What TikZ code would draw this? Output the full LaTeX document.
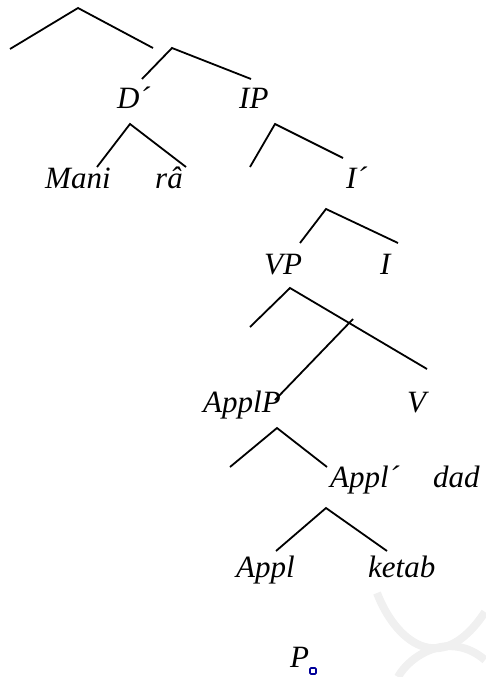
\documentclass[tikz,border=0pt]{standalone}
\usepackage{fontspec}
\setmainfont{Liberation Serif}
\begin{document}
\begin{tikzpicture}[x=1pt,y=-1pt,
  lbl/.style={anchor=base west,inner sep=0pt,font=\fontsize{31}{31}\selectfont\itshape},
  br/.style={line width=1.8pt,line join=miter},
  wm/.style={draw=black!6,line width=8pt}]
\useasboundingbox (0,0) rectangle (485,677);
% faint watermark
\draw[wm] (377,593) .. controls (395,640) and (440,680) .. (485,612);
\draw[wm] (398,677) .. controls (410,655) and (450,630) .. (485,660);
% coordinates
\coordinate (t1) at (10,49); \coordinate (t0) at (78,8); \coordinate (t2) at (153,48);
\coordinate (s1) at (142,79); \coordinate (s0) at (172,48); \coordinate (s2) at (251,79);
\coordinate (d0) at (130,124); \coordinate (d1) at (97,167); \coordinate (d2) at (186,167);
\coordinate (i0) at (275,124); \coordinate (i1) at (250,167); \coordinate (i2) at (343,158);
\coordinate (j0) at (326,209); \coordinate (j1) at (300,243); \coordinate (j2) at (398,243);
\coordinate (v0) at (290,288); \coordinate (v1) at (250,327); \coordinate (v2) at (427,369);
\coordinate (x1) at (353,319); \coordinate (x2) at (275,400);
\coordinate (a0) at (277,428); \coordinate (a1) at (230,467); \coordinate (a2) at (327,467);
\coordinate (b0) at (326,508); \coordinate (b1) at (276,551); \coordinate (b2) at (387,551);
% branches
\draw[br] (t1) -- (t0) -- (t2);
\draw[br] (s1) -- (s0) -- (s2);
\draw[br] (d1) -- (d0) -- (d2);
\draw[br] (i1) -- (i0) -- (i2);
\draw[br] (j1) -- (j0) -- (j2);
\draw[br] (v1) -- (v0) -- (v2);
\draw[br] (x1) -- (x2);
\draw[br] (a1) -- (a0) -- (a2);
\draw[br] (b1) -- (b0) -- (b2);
% labels
\node[lbl] (dbar) at (117,108) {D´};
\node[lbl] (ip) at (239,108) {IP};
\node[lbl] (mani) at (45,188) {Mani};
\node[lbl] (ra) at (155,188) {râ};
\node[lbl] (ibar) at (346,188) {I´};
\node[lbl] (vp) at (264,274) {VP};
\node[lbl] (i) at (380,274) {I};
\node[lbl] (applp) at (203,412) {ApplP};
\node[lbl] (v) at (407,412) {V};
\node[lbl] (applbar) at (330,487) {Appl´};
\node[lbl] (dad) at (433,487) {dad};
\node[lbl] (appl) at (236,577) {Appl};
\node[lbl] (ketab) at (368,577) {ketab};
\node[lbl] (p) at (290,667) {P};
\node[draw=blue!60!black,fill=white,line width=1.6pt,rounded corners=1pt,minimum size=6pt,inner sep=0pt] (icon) at (313,671) {};
\end{tikzpicture}
\end{document}
